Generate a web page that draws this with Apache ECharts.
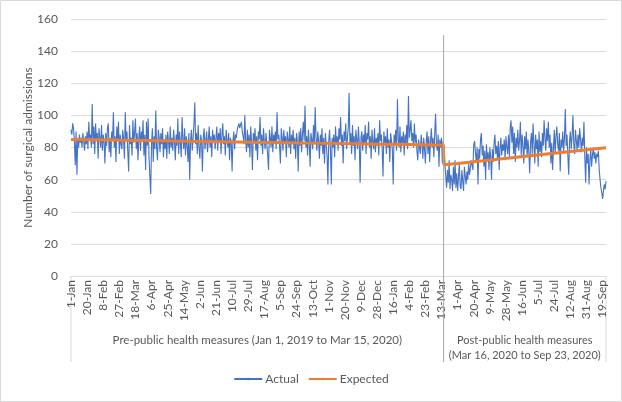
<!DOCTYPE html>
<html><head><meta charset="utf-8">
<script src="https://cdn.jsdelivr.net/npm/echarts@6/dist/echarts.min.js"></script>
<style>html,body{margin:0;padding:0;background:#fff}#c{width:622px;height:402px}</style>
</head><body><div id="c"></div><script>
// ---- data ----
const startYear = 2019, nDays = 632;
const monthNames = ['Jan','Feb','Mar','Apr','May','Jun','Jul','Aug','Sep','Oct','Nov','Dec'];
const tickStep = 19;
const yTicks = [0, 20, 40, 60, 80, 100, 120, 140, 160];
const seriesNames = ['Actual', 'Expected'];
const groupLabels = ['Pre-public health measures (Jan 1, 2019 to Mar 15, 2020)', 'Post-public health measures\n(Mar 16, 2020 to Sep 23, 2020)'];
const breakIndex = 440; // Mar 16, 2020

const actual = [
91,88,95,92,84,69,90,63,86,80,
88,83,86,80,89,84,78,87,82,90,
79,96,85,88,80,107,82,93,76,95,
84,89,73,92,86,80,94,78,88,83,
70,89,81,92,95,77,86,74,90,84,
102,80,87,71,93,84,96,76,88,82,
79,91,85,73,102,84,90,77,65,94,
82,86,75,97,83,89,98,79,89,72,
86,93,78,90,84,97,75,88,66,96,
81,98,74,62,51,83,92,71,87,79,
103,80,72,91,86,77,89,82,92,74,
85,79,88,73,90,84,76,93,80,86,
78,91,84,72,88,81,98,76,90,83,
74,99,85,79,92,75,87,82,71,89,
60,84,91,78,86,95,108,82,89,76,
94,80,73,88,84,65,86,92,79,84,
90,77,85,93,80,87,74,91,83,88,
79,86,93,78,89,84,92,76,88,95,
82,87,75,91,85,80,89,72,86,83,
65,84,90,79,88,86,91,93,95,92,
94,96,90,87,82,100,85,77,91,80,
88,74,93,83,66,89,84,92,78,87,
72,90,85,99,81,88,76,92,84,79,
89,82,75,66,91,86,80,93,77,88,
84,90,79,102,85,88,81,70,92,86,
78,91,83,87,74,90,85,80,93,76,
88,82,91,79,86,73,89,84,65,90,
81,92,77,88,96,84,106,80,87,75,
91,83,68,89,85,79,94,82,105,86,
78,90,84,73,88,81,92,76,86,70,
89,82,75,57,84,91,79,57,86,80,
88,74,93,82,87,78,92,85,99,81,
88,70,90,84,95,79,86,92,114,82,
89,76,94,81,87,72,91,85,79,93,
83,58,86,90,78,88,82,94,76,89,
85,96,80,87,73,91,84,79,92,77,
86,81,89,75,97,84,88,79,62,90,
83,87,76,92,80,85,71,89,84,79,
57,88,82,91,78,110,85,80,93,77,
87,83,90,75,88,82,94,79,112,86,
91,97,84,89,80,95,83,88,78,72,
85,80,76,88,82,73,86,79,70,84,
90,76,87,71,83,92,80,86,74,89,
101,82,78,88,68,85,80,86,70,84,
80,69,62,55,66,58,72,54,63,60,
53,68,57,72,55,64,53,61,70,56,
54,66,59,53,68,62,57,65,60,70,
63,67,72,69,66,82,84,77,71,80,
57,79,73,85,89,75,81,68,78,60,
82,72,77,66,80,74,60,79,71,83,
88,76,81,73,84,66,79,86,75,82,
78,85,72,87,80,76,88,74,92,97,
83,93,76,89,71,86,80,91,78,84,
96,75,88,81,70,87,79,90,74,85,
77,64,83,89,76,95,82,70,88,79,
85,68,90,77,84,74,89,81,97,86,
78,92,84,96,80,88,70,83,66,79,
91,76,87,93,82,78,89,65,85,80,
90,77,86,104,81,88,75,63,84,90,
79,87,100,82,76,91,84,78,88,80,
92,85,77,86,81,96,74,58,80,70,
76,57,72,79,68,75,80,73,77,70,
76,74,78,66,60,55,52,48,53,57,
54,59
];

// Expected (model) values at day indices
const expectedIdx = [0,31,59,90,120,151,181,212,243,273,304,334,365,396,425,439, 440,456,486,517,547,578,609,631];
const expectedVal = [85.0,84.75,84.5,84.3,84.0,83.8,83.55,83.3,83.05,82.8,82.6,82.35,82.1,81.85,81.6,81.5, 69.2,70.1,71.8,73.5,75.2,76.9,78.6,79.9];

// ---- build ----
const categories = [];
for (let i = 0; i < nDays; i++) {
  const d = new Date(Date.UTC(startYear, 0, 1 + i));
  categories.push(d.getUTCDate() + '-' + monthNames[d.getUTCMonth()]);
}
const expectedData = expectedIdx.map((ix, k) => [ix, expectedVal[k]]);

const FONT = 'Lato';
const TXT = '#595959';
const chart = echarts.init(document.getElementById('c'), null, {renderer: 'canvas'});
chart.setOption({
  animation: false,
  textStyle: {fontFamily: FONT},
  grid: {left: 71, right: 16, top: 19, bottom: 126},
  xAxis: {
    type: 'category', data: categories, boundaryGap: false,
    axisLine: {lineStyle: {color: '#d9d9d9', width: 1}},
    axisTick: {show: false},
    axisLabel: {interval: tickStep - 1, rotate: 90, fontSize: 12, color: TXT, fontFamily: FONT, margin: 4},
    splitLine: {show: false}
  },
  yAxis: {
    type: 'value', min: yTicks[0], max: yTicks[yTicks.length - 1], interval: yTicks[1] - yTicks[0],
    axisLine: {show: false}, axisTick: {show: false},
    axisLabel: {fontSize: 12, color: TXT, fontFamily: FONT, margin: 13},
    splitLine: {lineStyle: {color: '#d9d9d9', width: 1}},
    name: 'Number of surgical admissions', nameLocation: 'middle', nameGap: 37, nameRotate: 90,
    nameMoveOverlap: false,
    nameTextStyle: {fontSize: 12, color: TXT, fontFamily: FONT}
  },
  legend: {
    bottom: 12, left: 'center', itemWidth: 28, itemHeight: 3, itemGap: 9,
    textStyle: {fontSize: 12, color: TXT, fontFamily: FONT, padding: [0, 0, 0, -2]},
    data: seriesNames
  },
  series: [
    {name: seriesNames[0], type: 'line', data: actual, symbol: 'none', lineStyle: {width: 1.1, color: '#4472C4'}, itemStyle: {color: '#4472C4'}, z: 2},
    {name: seriesNames[1], type: 'line', data: expectedData, symbol: 'none', lineStyle: {width: 3, color: '#ED7D31'}, itemStyle: {color: '#ED7D31'}, z: 3}
  ]
});

const px = i => chart.convertToPixel({xAxisIndex: 0}, i);
const py = v => chart.convertToPixel({yAxisIndex: 0}, v);
const x0 = px(0), xEnd = px(nDays - 1);
const xBreak = (px(breakIndex - 1) + px(breakIndex)) / 2;
const yBase = py(0);
const yBottom = 362;
chart.setOption({
  graphic: [
    {type: 'rect', shape: {x: 0.5, y: 0.5, width: 621, height: 401}, style: {fill: null, stroke: '#d9d9d9', lineWidth: 1}, silent: true},
    {type: 'line', shape: {x1: x0, y1: yBase, x2: x0, y2: yBottom}, style: {stroke: '#d9d9d9', lineWidth: 1}},
    {type: 'line', shape: {x1: xEnd, y1: yBase, x2: xEnd, y2: yBottom}, style: {stroke: '#d9d9d9', lineWidth: 1}},
    {type: 'line', shape: {x1: xBreak, y1: py(150), x2: xBreak, y2: yBottom}, style: {stroke: '#a6a6a6', lineWidth: 1}, z: 10},
    {type: 'text', x: (x0 + xBreak) / 2, y: 340, style: {text: groupLabels[0], fill: TXT, font: '11.5px ' + FONT, textAlign: 'center', textVerticalAlign: 'middle'}},
    {type: 'text', x: (xBreak + xEnd) / 2, y: 347.5, style: {text: groupLabels[1], fill: TXT, font: '11px ' + FONT, textAlign: 'center', textVerticalAlign: 'middle', lineHeight: 15}}
  ]
});
</script></body></html>
